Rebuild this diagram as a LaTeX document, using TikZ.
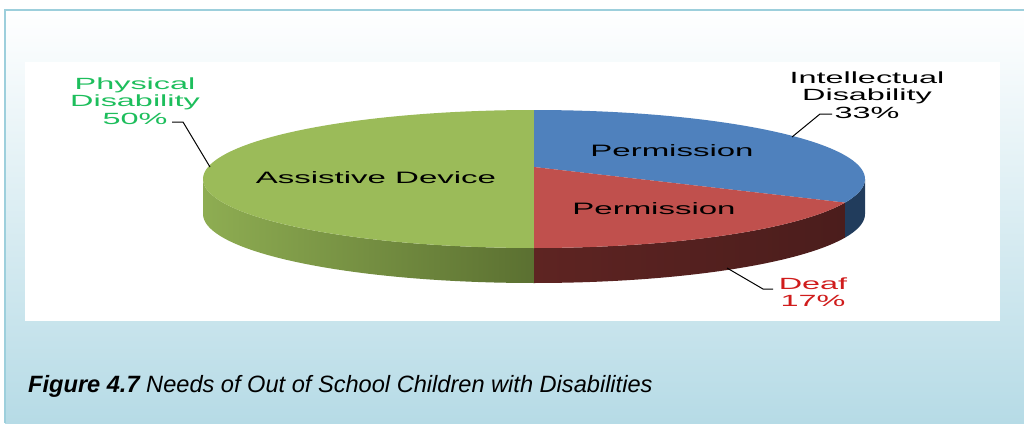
\documentclass[tikz,border=0pt]{standalone}
\usepackage{fontspec}
\setmainfont{Liberation Sans}
\usetikzlibrary{positioning}
\definecolor{frameblue}{HTML}{9DCFDC}
\definecolor{panelmid}{HTML}{E4F2F6}
\definecolor{panelblue}{HTML}{B6DBE6}
\definecolor{greentop}{HTML}{9BBB59}
\definecolor{greenside}{HTML}{5B7031}
\definecolor{greensidel}{HTML}{8EAD52}
\definecolor{bluetop}{HTML}{4F81BD}
\definecolor{blueside}{HTML}{213C5C}
\definecolor{redtop}{HTML}{C0504D}
\definecolor{redside}{HTML}{4B1D1C}
\definecolor{redsidel}{HTML}{5E2422}
\definecolor{greenlbl}{HTML}{1DBE5C}
\definecolor{redlbl}{HTML}{D01C1C}
\begin{document}
\begin{tikzpicture}[x=1pt,y=-1pt,
    lbl/.style={font=\fontsize{16.2}{17.3}\selectfont, align=center, xscale=2, inner sep=0pt},
    inlbl/.style={font=\fontsize{16.5}{18}\selectfont, xscale=2, inner sep=0pt}]
    \useasboundingbox (0,0) rectangle (1024,423);
    %draw panel
    \shade[top color=white, middle color=panelmid, bottom color=panelblue] (5,10) rectangle (1024,423);
    \draw[frameblue, line width=2.5pt] (5,423) -- (5,10) -- (1024,10);
    \fill[white] (25,62) rectangle (1000,321);
    %draw sides
    \shade[left color=greensidel, right color=greenside]
        plot[domain=90:180, samples=40] ({534+331*cos(\x)},{179+69*sin(\x)})
        -- plot[domain=180:90, samples=40] ({534+331*cos(\x)},{214+69*sin(\x)}) -- cycle;
    \shade[left color=redsidel, right color=redside]
        plot[domain=20:90, samples=40] ({534+331*cos(\x)},{179+69*sin(\x)})
        -- plot[domain=90:20, samples=40] ({534+331*cos(\x)},{214+69*sin(\x)}) -- cycle;
    \fill[blueside]
        plot[domain=0:20, samples=20] ({534+331*cos(\x)},{179+69*sin(\x)})
        -- plot[domain=20:0, samples=20] ({534+331*cos(\x)},{214+69*sin(\x)}) -- cycle;
    %draw top slices
    \fill[greentop] plot[domain=90:270, samples=80] ({534+331*cos(\x)},{179+69*sin(\x)}) -- cycle;
    \fill[bluetop] (534,167) -- plot[domain=-90:20, samples=60] ({534+331*cos(\x)},{179+69*sin(\x)}) -- cycle;
    \fill[redtop] (534,167) -- plot[domain=20:90, samples=40] ({534+331*cos(\x)},{179+69*sin(\x)}) -- cycle;
    %slice labels
    \node[inlbl] (assist) at (376,178) {Assistive Device};
    \node[inlbl] (permA) at (672,151) {Permission};
    \node[inlbl] (permB) at (654,209) {Permission};
    %outside labels
    \node[lbl, text=greenlbl] (phys) at (135,101) {Physical\\Disability\\50\%};
    \node[lbl] (intel) at (867,95) {Intellectual\\Disability\\33\%};
    \node[lbl, text=redlbl] (deaf) at (813,292) {Deaf\\17\%};
    %leader lines
    \coordinate (physFrom) at (172,122);
    \coordinate (physTip) at (210,167);
    \coordinate (intelFrom) at (832,114);
    \coordinate (intelTip) at (792,137);
    \coordinate (deafFrom) at (773,289);
    \coordinate (deafTip) at (727,268);
    \draw[line width=1pt] (physFrom) -- ++(11,0) -- (physTip);
    \draw[line width=1pt] (intelFrom) -- ++(-12,0) -- (intelTip);
    \draw[line width=1pt] (deafFrom) -- ++(-10,0) -- (deafTip);
    %caption
    \node[anchor=base west, inner sep=0pt, font=\fontsize{23.6}{26}\selectfont\itshape] (caption) at (28,392)
        {\textbf{Figure 4.7} Needs of Out of School Children with Disabilities};
\end{tikzpicture}
\end{document}
